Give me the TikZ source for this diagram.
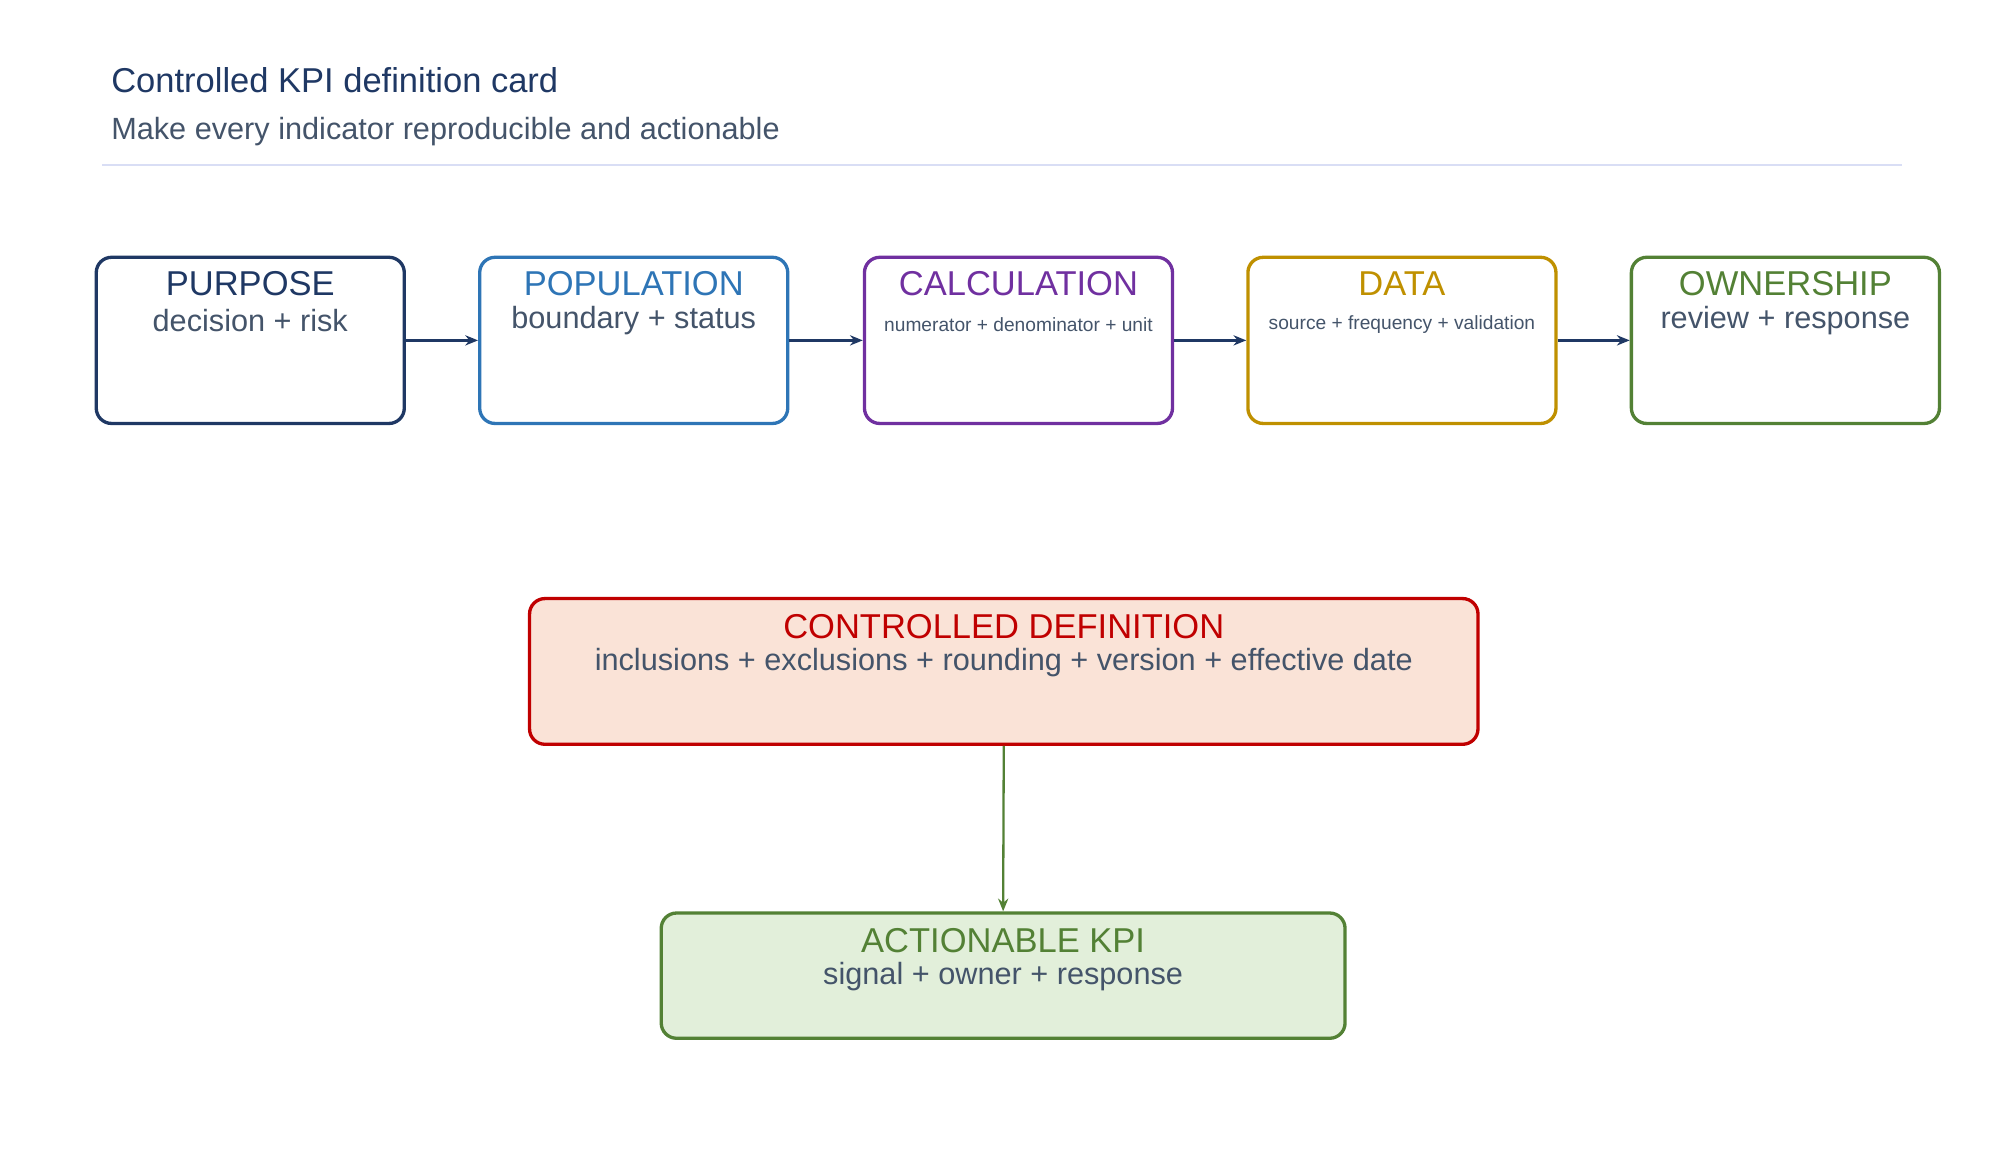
\documentclass[tikz,border=0pt]{standalone}
\usepackage{fontspec}
\setmainfont{Liberation Sans}
\usetikzlibrary{arrows.meta}
\definecolor{navy}{HTML}{1F3864}
\definecolor{cblue}{HTML}{2E75B6}
\definecolor{cpurple}{HTML}{7030A0}
\definecolor{cgold}{HTML}{BF9000}
\definecolor{cgreen}{HTML}{538135}
\definecolor{cred}{HTML}{C00000}
\definecolor{tgray}{HTML}{44546A}
\definecolor{peach}{HTML}{FAE3D7}
\definecolor{lgreen}{HTML}{E2EFDA}
\definecolor{rule}{HTML}{D9DEF5}
\begin{document}
\begin{tikzpicture}[x=0.5pt,y=-0.5pt,
 box/.style={draw=#1,line width=1.3pt,rounded corners=6pt,minimum width=120.5pt,minimum height=65pt,anchor=north west},
 head/.style={font=\fontsize{13.5}{15}\selectfont,text=#1},
 sub/.style={font=\fontsize{12}{14}\selectfont,text=tgray},
 small/.style={font=\fontsize{7.5}{9}\selectfont,text=tgray},
 arr/.style={-{Stealth[length=5pt,width=4pt]},line width=0.9pt,draw=navy}]
\useasboundingbox (0,0) rectangle (1560,908);
\node[anchor=base west,text=navy,font=\fontsize{13.5}{16}\selectfont] (t) at (80,72) {Controlled KPI definition card};
\node[anchor=base west,text=tgray,font=\fontsize{12}{14}\selectfont] (st) at (80,109) {Make every indicator reproducible and actionable};
\coordinate (l1) at (80,129); \coordinate (l2) at (1488,129);
\draw[rule,line width=1pt] (l1) -- (l2);
\foreach \n/\x/\c in {b1/74/navy,b2/374/cblue,b3/675/cpurple,b4/975/cgold,b5/1275/cgreen}
  \node[box=\c] (\n) at (\x,200) {};
\foreach \n/\c/\h in {b1/navy/PURPOSE,b2/cblue/POPULATION,b3/cpurple/CALCULATION,b4/cgold/DATA,b5/cgreen/OWNERSHIP}
  \node[head=\c] (\n h) at ([yshift=-11pt]\n.north) {\h};
\node[sub] (b1s) at ([yshift=-25.5pt]b1.north) {decision + risk};
\node[sub] (b2s) at ([yshift=-25.5pt]b2.north) {boundary + status};
\node[small] (b3s) at ([yshift=-27pt]b3.north) {numerator + denominator + unit};
\node[small] (b4s) at ([yshift=-27pt]b4.north) {source + frequency + validation};
\node[sub] (b5s) at ([yshift=-25.5pt]b5.north) {review + response};
\draw[arr] (b1) -- (b2);
\draw[arr] (b2) -- (b3);
\draw[arr] (b3) -- (b4);
\draw[arr] (b4) -- (b5);
\node[draw=cred,fill=peach,line width=1.3pt,rounded corners=6pt,minimum width=371pt,minimum height=57pt,anchor=north west] (cd) at (413,467) {};
\node[head=cred] (cdh) at ([yshift=-11.5pt]cd.north) {CONTROLLED DEFINITION};
\node[sub] (cds) at ([yshift=-25.5pt]cd.north) {inclusions + exclusions + rounding + version + effective date};
\node[draw=cgreen,fill=lgreen,line width=1.3pt,rounded corners=6pt,minimum width=267.5pt,minimum height=49pt,anchor=north west] (ak) at (516,713) {};
\node[head=cgreen] (akh) at ([yshift=-11.5pt]ak.north) {ACTIONABLE KPI};
\node[sub] (aks) at ([yshift=-25.5pt]ak.north) {signal + owner + response};
\draw[arr,draw=cgreen] (cd.south) -- (ak.north);
\end{tikzpicture}
\end{document}
